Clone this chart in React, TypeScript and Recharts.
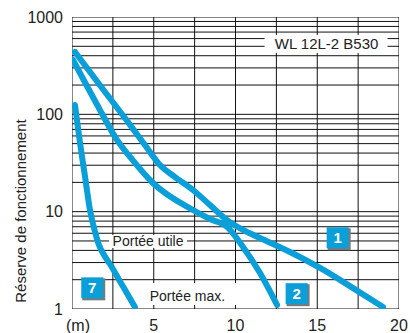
import React from "react";
import { LineChart, Line, XAxis, YAxis, ReferenceDot } from "recharts";

// curve 1
const range1 = [0.18, 1.71, 3.55, 4.46, 5.38, 6.3, 7.4, 8.44, 9.48, 10.46, 11.5, 13.33, 15.17, 17.19, 19.02];
const reserve1 = [438, 199, 78, 48.5, 30.2, 22.7, 16.7, 11.7, 8.2, 6.5, 5.37, 3.85, 2.64, 1.64, 1.05];
// curve 2
const range2 = [0.06, 1.71, 2.75, 3.55, 4.95, 7.4, 8.44, 9.48, 10.46, 11.5, 12.54];
const reserve2 = [362, 111, 54.6, 36.5, 19.7, 10.4, 8.4, 7.0, 4.34, 2.34, 1.1];
// curve 7
const range7 = [0.18, 0.49, 0.8, 1.1, 1.41, 1.65, 1.96, 2.32, 3.06, 3.85];
const reserve7 = [125, 50.8, 22.7, 10.4, 6.2, 4.55, 3.59, 2.9, 1.77, 1.05];

const xTicks = [0, 5, 10, 15, 20];
const yTicks = [1, 10, 100, 1000];
const gridX = [0, 2.5, 5, 7.5, 10, 12.5, 15, 17.5, 20];
const gridY = [
  1, 2, 3, 4, 5, 6, 7, 8, 9, 10, 20, 30, 40, 50, 60, 70, 80, 90, 100, 200,
  300, 400, 500, 600, 700, 800, 900, 1000,
];

const BLUE = "#0a9fd8";
const FONT = "'Liberation Sans', Arial, sans-serif";

const toRows = (xs: number[], ys: number[]) =>
  xs.map((x, i) => ({ x, y: ys[i] }));

const curves = [
  { key: "1", data: toRows(range1, reserve1) },
  { key: "2", data: toRows(range2, reserve2) },
  { key: "7", data: toRows(range7, reserve7) },
];

// grid drawn as thin series so it stays under the curves
const gridLines = [
  ...gridY.map((v) => ({ key: "h" + v, data: [{ x: 0, y: v }, { x: 20, y: v }] })),
  ...gridX.map((v) => ({ key: "v" + v, data: [{ x: v, y: 1 }, { x: v, y: 1000 }] })),
];

// number tags next to curves (data coords)
const tags = [
  { label: "1", x: 16.31, y: 5.33 },
  { label: "2", x: 13.8, y: 1.42 },
  { label: "7", x: 1.3, y: 1.63 },
];

function Tag({ cx, cy, label }: any) {
  return (
    <g>
      <rect x={cx - 11} y={cy - 10} width={23} height={22} fill="#7a7a7a" />
      <rect x={cx - 12} y={cy - 11} width={22} height={21} fill={BLUE} />
      <text
        x={cx - 1}
        y={cy + 5}
        textAnchor="middle"
        fill="#fff"
        fontWeight="bold"
        fontSize={15}
        fontFamily={FONT}
      >
        {label}
      </text>
    </g>
  );
}

function Note({ cx, cy, text, size, left, right, top, bottom }: any) {
  return (
    <g>
      <rect
        x={cx - left}
        y={cy - top}
        width={left + right}
        height={top + bottom}
        fill="#fff"
      />
      <text
        x={cx}
        y={cy + size * 0.36}
        textAnchor="middle"
        fill="#222"
        fontSize={size}
        fontFamily={FONT}
      >
        {text}
      </text>
    </g>
  );
}

function XTick({ x, y, payload }: any) {
  const v = payload.value;
  return (
    <text
      x={x + (v === 0 ? 6 : 0)}
      y={y}
      dy="0.71em"
      textAnchor="middle"
      fill="#222"
      fontSize={16}
      fontFamily={FONT}
    >
      {v === 0 ? "(m)" : v}
    </text>
  );
}

function YLabel() {
  return (
    <text
      x={26}
      y={211}
      transform="rotate(-90 26 211)"
      textAnchor="middle"
      fill="#222"
      fontSize={15}
      fontFamily={FONT}
    >
      Réserve de fonctionnement
    </text>
  );
}

export default function App() {
  return (
    <div style={{ position: "absolute", left: 0, top: 0, background: "#fff" }}>
      <LineChart
        width={410}
        height={333}
        margin={{ top: 17, right: 11, left: 0, bottom: 0 }}
      >
        <XAxis
          type="number"
          dataKey="x"
          domain={[0, 20]}
          ticks={xTicks}
          axisLine={false}
          tickLine={false}
          tickSize={0}
          tickMargin={11}
          height={24}
          tick={<XTick />}
          allowDataOverflow
        />
        <YAxis
          type="number"
          dataKey="y"
          scale="log"
          domain={[1, 1000]}
          ticks={yTicks}
          axisLine={false}
          tickLine={false}
          tickSize={0}
          tickMargin={9}
          width={72}
          tick={{ fontSize: 16, fill: "#222", fontFamily: FONT }}
          label={<YLabel />}
          allowDataOverflow
        />
        {gridLines.map((g) => (
          <Line
            key={g.key}
            data={g.data}
            dataKey="y"
            type="linear"
            stroke="#111"
            strokeWidth={1}
            dot={false}
            activeDot={false}
            isAnimationActive={false}
          />
        ))}
        {curves.map((c) => (
          <Line
            key={c.key}
            data={c.data}
            dataKey="y"
            type="monotone"
            stroke={BLUE}
            strokeWidth={6}
            strokeLinecap="round"
            dot={false}
            activeDot={false}
            isAnimationActive={false}
          />
        ))}
        <ReferenceDot
          x={15.57}
          y={529}
          r={0}
          shape={(p: any) => (
            <Note {...p} text="WL 12L-2 B530" size={15} left={62} right={61} top={9} bottom={9} />
          )}
        />
        <ReferenceDot
          x={4.65}
          y={5}
          r={0}
          shape={(p: any) => (
            <Note {...p} text="Portée utile" size={14} left={39} right={39} top={6} bottom={7} />
          )}
        />
        <ReferenceDot
          x={7.06}
          y={1.36}
          r={0}
          shape={(p: any) => (
            <Note {...p} text="Portée max." size={14} left={47} right={73} top={13} bottom={9} />
          )}
        />
        {tags.map((t) => (
          <ReferenceDot
            key={t.label}
            x={t.x}
            y={t.y}
            r={0}
            shape={(p: any) => <Tag {...p} label={t.label} />}
          />
        ))}
      </LineChart>
    </div>
  );
}
